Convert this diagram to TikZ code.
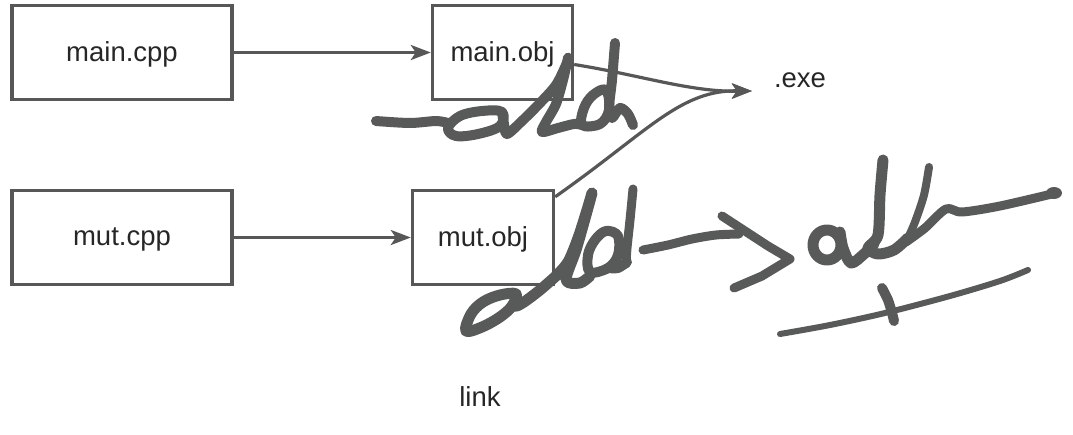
\documentclass[tikz,border=0pt]{standalone}
\usepackage{fontspec}
\setmainfont{Liberation Sans}
\usetikzlibrary{arrows.meta}
\definecolor{boxgray}{RGB}{87,87,87}
\definecolor{ink}{RGB}{88,90,89}
\tikzset{
  filebox/.style={draw=boxgray, line width=3.4pt, minimum height=94pt, inner sep=0pt, text depth=1pt, font=\fontsize{27.5}{32}\selectfont, text=black!85},
  lbl/.style={inner sep=0pt, text depth=1pt, font=\fontsize{27.5}{32}\selectfont, text=black!85},
  conn/.style={draw=boxgray, line width=3.2pt, -{Stealth[length=20pt,width=15pt,inset=5pt]}},
  hand/.style={draw=ink, line cap=round, line join=round},
}
\begin{document}
\begin{tikzpicture}[x=1pt,y=-1pt]
\useasboundingbox (0,0) rectangle (1073,434);
\node[filebox, minimum width=220pt] (mcpp) at (122,52.5) {main.cpp};
\node[filebox, minimum width=140pt] (mobj) at (502.5,52.5) {main.obj};
\node[filebox, minimum width=220pt] (ucpp) at (122,237.5) {mut.cpp};
\node[filebox, minimum width=141pt] (uobj) at (483,237.5) {mut.obj};
\node[lbl] (exe) at (800,81) {.exe};
\node[lbl] (link) at (480,397) {link};
\coordinate (exein) at (752,91);

\draw[conn] (mcpp.east) -- (mobj.west);
\draw[conn] (ucpp.east) -- (uobj.west);
\draw[conn] ([yshift=-12pt]mobj.east) .. controls (640,75) and (690,92) .. (exein);
\draw[conn] ([yshift=-8pt]uobj.north east) .. controls (650,130) and (680,90) .. (exein);

% handwriting: add (top)
\draw[hand, line width=10pt] plot[smooth, tension=0.5] coordinates {(376,121) (410,123) (436,121) (448,123)};
\draw[hand, line width=10pt] plot[smooth cycle, tension=0.6] coordinates {(448,128) (460,116) (482,111) (502,112) (500,126) (478,134) (456,136)};
\draw[hand, line width=10pt] plot[smooth, tension=0.5] coordinates {(502,112) (504,124) (507,134) (522,121) (540,103) (556,85) (566,65) (568,58) (563,80) (556,104) (546,122) (542,132) (558,128) (574,124) (582,125)};
\draw[hand, line width=10pt] plot[smooth cycle, tension=0.6] coordinates {(582,125) (584,108) (593,95) (606,90) (609,110) (600,124)};
\draw[hand, line width=10pt] plot[smooth, tension=0.5] coordinates {(615,43) (612,80) (609,108) (612,118) (620,108) (628,114) (633,125)};

% handwriting: add (bottom)
\draw[hand, line width=11pt] plot[smooth cycle, tension=0.6] coordinates {(466,331) (471,314) (483,302) (500,295) (516,294) (512,306) (500,317) (482,327)};
\draw[hand, line width=11pt] plot[smooth, tension=0.5] coordinates {(516,294) (515,306) (524,302) (540,290) (556,276)};
\draw[hand, line width=11pt] plot[smooth, tension=0.5] coordinates {(556,276) (568,262) (578,238) (587,210) (592,193) (586,215) (576,250) (566,280) (580,283) (590,276)};
\draw[hand, line width=10pt] plot[smooth cycle, tension=0.6] coordinates {(590,272) (588,255) (595,240) (606,231) (618,236) (618,255) (608,268)};
\draw[hand, line width=10pt] plot[smooth, tension=0.5] coordinates {(608,268) (618,268) (627,262)};
\draw[hand, line width=9pt] plot[smooth, tension=0.5] coordinates {(633,189) (630,220) (627,248) (626,264)};

% handwriting: arrow
\draw[hand, line width=9pt] plot[smooth, tension=0.5] coordinates {(643,250) (668,245) (692,239) (716,235) (739,234)};
\draw[hand, line width=9pt] (722,216) -- (768,246) -- (790,259) -- (762,276) -- (734,288);

% handwriting: add (right)
\draw[hand, line width=11pt] (827,245) ellipse [x radius=14pt, y radius=15pt];
\draw[hand, line width=11pt] plot[smooth, tension=0.5] coordinates {(840,232) (843,248) (851,263) (864,254) (874,244)};
\draw[hand, line width=11pt] plot[smooth, tension=0.5] coordinates {(883,160) (880,195) (878,235) (868,248) (878,254) (894,250) (908,238)};
\draw[hand, line width=8pt] plot[smooth, tension=0.5] coordinates {(929,167) (924,195) (915,222) (908,238)};
\draw[hand, line width=9pt] plot[smooth, tension=0.5] coordinates {(906,242) (925,228) (946,209) (962,212) (1000,206) (1056,193)};
\fill[ink] (1054,193) ellipse [x radius=8pt, y radius=6pt];

% handwriting: underline with tick
\draw[hand, line width=6pt] plot[smooth, tension=0.5] coordinates {(780,334) (830,325) (885,313) (950,296) (1000,281) (1028,270)};
\draw[hand, line width=10pt] plot[smooth, tension=0.5] coordinates {(882,288) (888,300) (892,313) (894,321)};
\end{tikzpicture}
\end{document}
